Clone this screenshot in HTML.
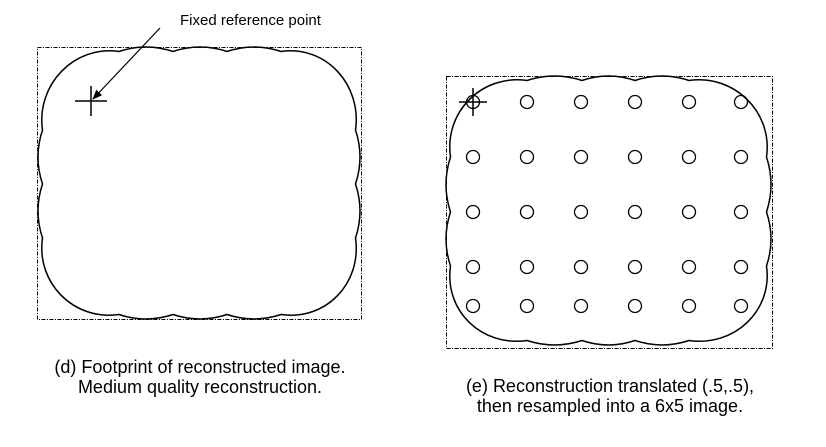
<!DOCTYPE html>
<html><head><meta charset="utf-8"><style>
body{margin:0;background:#fff;width:826px;height:447px;overflow:hidden}
svg{position:absolute;left:0;top:0}
text{font-family:"Liberation Sans",sans-serif;fill:#000}
</style></head><body>
<svg id="s" width="826" height="447" viewBox="0 0 826 447">
<defs><marker id="ah" markerWidth="10" markerHeight="8" refX="9" refY="4" orient="auto" markerUnits="userSpaceOnUse"><path d="M0,0 L10,4 L0,8 Z" fill="#000"/></marker></defs>
<rect x="37.5" y="47.5" width="324" height="272" fill="none" stroke="#000" stroke-width="1" stroke-dasharray="4,1.5,1,1.5"/>
<rect x="446.5" y="76.5" width="326" height="272" fill="none" stroke="#000" stroke-width="1" stroke-dasharray="4,1.5,1,1.5"/>
<path id="p1" fill="none" stroke="#000" stroke-width="1.5"/>
<path id="p2" fill="none" stroke="#000" stroke-width="1.5"/>
<g stroke="#000" stroke-width="1.5">
<line x1="75" y1="101" x2="107" y2="101"/><line x1="91" y1="86" x2="91" y2="116"/>
<line x1="459" y1="102" x2="487" y2="102"/><line x1="473" y1="88" x2="473" y2="116"/>
</g>
<line x1="160" y1="28" x2="93" y2="99" stroke="#000" stroke-width="1.2" marker-end="url(#ah)"/>
<g id="c" fill="none" stroke="#000" stroke-width="1.3"></g>
<text x="180" y="25" font-size="15">Fixed reference point</text>
<text x="200" y="373" font-size="18" text-anchor="middle">(d) Footprint of reconstructed image.</text>
<text x="200" y="393" font-size="18" text-anchor="middle">Medium quality reconstruction.</text>
<text x="610" y="392" font-size="18" text-anchor="middle">(e) Reconstruction translated (.5,.5),</text>
<text x="610" y="412" font-size="18" text-anchor="middle">then resampled into a 6x5 image.</text>
</svg>
<script>
function shape(xs,ys,L,R,T,B,d){
 var s="";
 var x0=xs[0],xn=xs[xs.length-1],y0=ys[0],yn=ys[ys.length-1];
 s+="M"+x0+","+(T+d);
 for(var i=0;i<xs.length-1;i++){var m=(xs[i]+xs[i+1])/2;s+=" Q"+m+","+(T-d)+" "+xs[i+1]+","+(T+d);}
 s+=" C"+(xn+45)+","+(T-2)+" "+(R+2)+","+(y0-45)+" "+(R-d)+","+y0;
 for(var i=0;i<ys.length-1;i++){var m=(ys[i]+ys[i+1])/2;s+=" Q"+(R+d)+","+m+" "+(R-d)+","+ys[i+1];}
 s+=" C"+(R+2)+","+(yn+45)+" "+(xn+45)+","+(B+2)+" "+xn+","+(B-d);
 for(var i=xs.length-1;i>0;i--){var m=(xs[i]+xs[i-1])/2;s+=" Q"+m+","+(B+d)+" "+xs[i-1]+","+(B-d);}
 s+=" C"+(x0-45)+","+(B+2)+" "+(L-2)+","+(yn+45)+" "+(L+d)+","+yn;
 for(var i=ys.length-1;i>0;i--){var m=(ys[i]+ys[i-1])/2;s+=" Q"+(L-d)+","+m+" "+(L+d)+","+ys[i-1];}
 s+=" C"+(L-2)+","+(y0-45)+" "+(x0-45)+","+(T-2)+" "+x0+","+(T+d)+" Z";
 return s;}
document.getElementById('p1').setAttribute('d',shape([119,173,227,281],[130,184,238],38,360,47,319,4.5));
document.getElementById('p2').setAttribute('d',shape([527,582,635,689],[157,212,266],446,771,76,345,4.5));
var g=document.getElementById('c'),h="";
[473,527,581,635,689,741].forEach(function(x){[102,157,212,267,306].forEach(function(y){h+='<circle cx="'+x+'" cy="'+y+'" r="6.5"/>';});});
g.innerHTML=h;
</script>
</body></html>
